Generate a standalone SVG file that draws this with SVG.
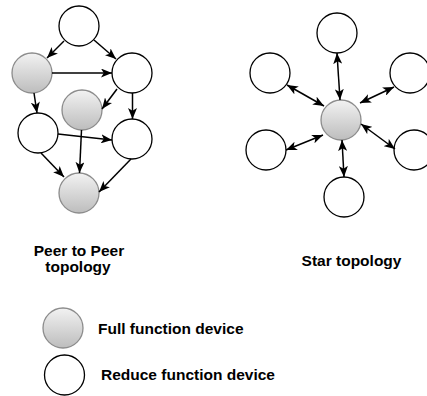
<svg xmlns="http://www.w3.org/2000/svg" width="427" height="396" viewBox="0 0 427 396">
  <style>
    .rfd { fill: #ffffff; stroke: #000000; stroke-width: 1.3; }
    .ffd { fill: url(#ffdFill); stroke: #8c8c8c; stroke-width: 1.3; }
    .edge { fill: none; stroke: #000000; stroke-width: 1.5; marker-end: url(#arrow); }
    .duplex { marker-start: url(#arrow); }
    .label { font-family: "Liberation Sans", Arial, Helvetica, sans-serif; font-weight: bold; fill: #000000; }
  </style>
  <defs>
    <linearGradient id="ffdFill" x1="0" y1="0" x2="0" y2="1">
      <stop offset="0" stop-color="#f2f2f2"/>
      <stop offset="1" stop-color="#bdbdbd"/>
    </linearGradient>
    <marker id="arrow" viewBox="0 0 11 9" refX="11" refY="4.5" markerWidth="11" markerHeight="9" markerUnits="userSpaceOnUse" orient="auto-start-reverse">
      <path d="M0,0 L11,4.5 L0,9 L2.8,4.5 Z" fill="#000000"/>
    </marker>
  </defs>

  <!-- peer-to-peer mesh -->
  <g id="p2p-a"><circle class="rfd" cx="79" cy="26" r="20"/></g>
  <g id="p2p-b"><circle class="ffd" cx="32" cy="73" r="20"/></g>
  <g id="p2p-c"><circle class="rfd" cx="132" cy="73" r="20"/></g>
  <g id="p2p-d"><circle class="ffd" cx="82" cy="110" r="20"/></g>
  <g id="p2p-e"><circle class="rfd" cx="38" cy="133" r="20"/></g>
  <g id="p2p-f"><circle class="rfd" cx="132" cy="139" r="20"/></g>
  <g id="p2p-g"><circle class="ffd" cx="79" cy="193" r="20"/></g>

  <!-- star -->
  <g id="star-hub"><circle class="ffd" cx="341" cy="120" r="20"/></g>
  <g id="star-top"><circle class="rfd" cx="337" cy="33" r="20"/></g>
  <g id="star-upper-left"><circle class="rfd" cx="270" cy="73" r="20"/></g>
  <g id="star-upper-right"><circle class="rfd" cx="410" cy="73" r="20"/></g>
  <g id="star-lower-left"><circle class="rfd" cx="266" cy="150" r="20"/></g>
  <g id="star-lower-right"><circle class="rfd" cx="414" cy="150" r="20"/></g>
  <g id="star-bottom"><circle class="rfd" cx="344" cy="197" r="20"/></g>

  <g id="connectors">
    <!-- mesh links -->
    <line class="edge" x1="64" y1="41" x2="47" y2="58"/>
    <line class="edge" x1="94" y1="40" x2="116" y2="59"/>
    <line class="edge" x1="52" y1="73" x2="112" y2="73"/>
    <line class="edge" x1="34" y1="93" x2="37" y2="113"/>
    <line class="edge" x1="117" y1="89" x2="102" y2="109"/>
    <line class="edge" x1="132.5" y1="93" x2="132.5" y2="119"/>
    <line class="edge" x1="58" y1="134" x2="112" y2="140"/>
    <line class="edge" x1="81.5" y1="130" x2="79.5" y2="173"/>
    <line class="edge" x1="41" y1="153" x2="64" y2="177"/>
    <line class="edge" x1="131" y1="159" x2="99" y2="192"/>
    <!-- star links, both directions -->
    <line class="edge duplex" x1="337" y1="53" x2="340" y2="100"/>
    <line class="edge duplex" x1="287" y1="85" x2="324" y2="106"/>
    <line class="edge duplex" x1="360" y1="103" x2="394" y2="87"/>
    <line class="edge duplex" x1="323" y1="135" x2="286" y2="150"/>
    <line class="edge duplex" x1="361" y1="124" x2="395" y2="149"/>
    <line class="edge duplex" x1="342" y1="140" x2="344" y2="177"/>
  </g>

  <!-- captions -->
  <g id="caption-p2p">
    <text class="label" font-size="15.5" text-anchor="middle" x="79" y="255.5">Peer to Peer</text>
    <text class="label" font-size="15.5" text-anchor="middle" x="78" y="271.5">topology</text>
  </g>
  <g id="caption-star">
    <text class="label" font-size="15.5" text-anchor="middle" x="351.5" y="265.5">Star topology</text>
  </g>

  <!-- legend -->
  <g id="legend-ffd">
    <circle class="ffd" cx="63" cy="328" r="20"/>
    <text class="label" font-size="15.5" x="98" y="333.5">Full function device</text>
  </g>
  <g id="legend-rfd">
    <circle class="rfd" cx="64.5" cy="375" r="20"/>
    <text class="label" font-size="15.5" x="101" y="380">Reduce function device</text>
  </g>
</svg>
